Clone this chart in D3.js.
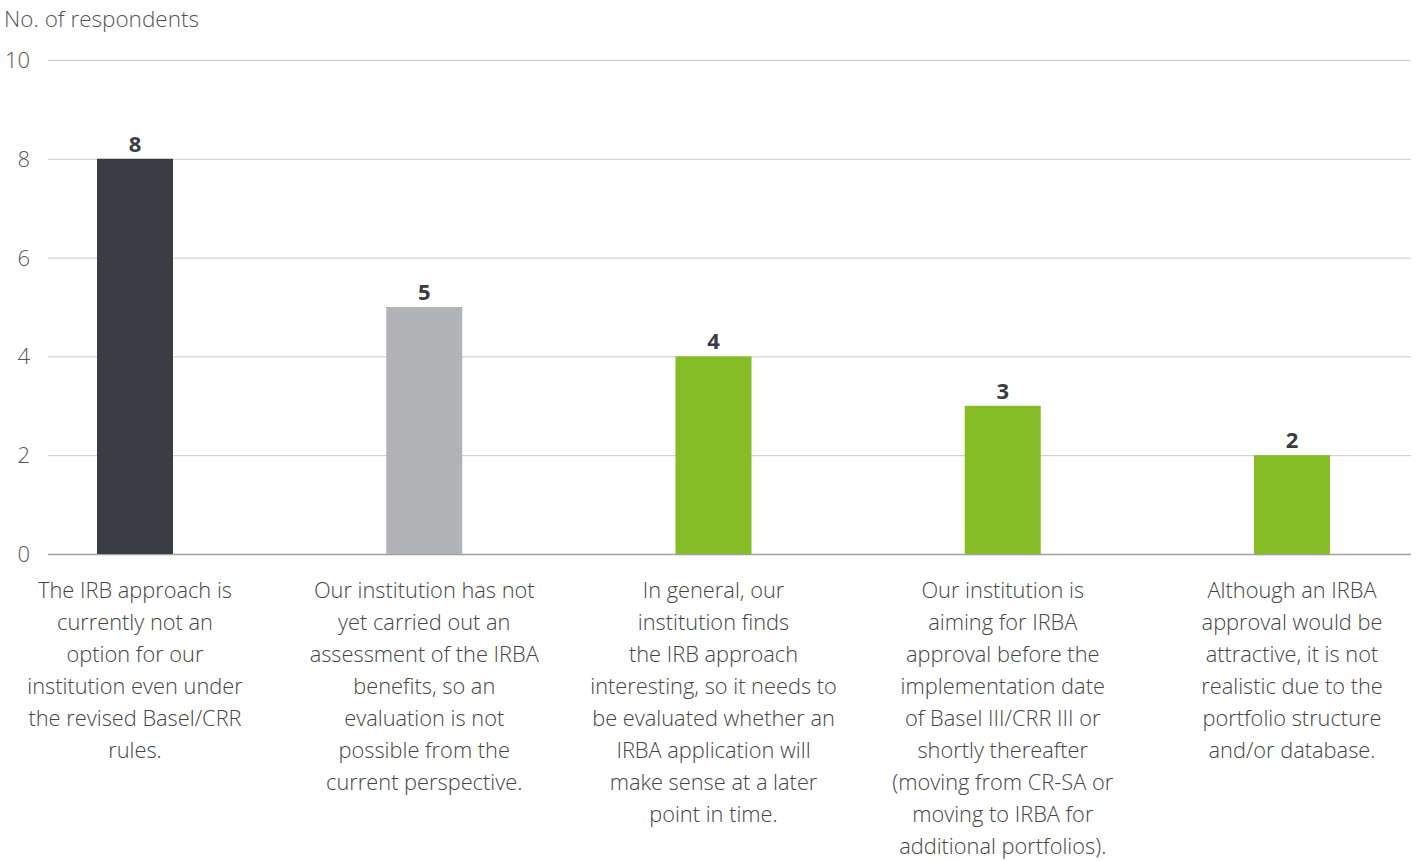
<!DOCTYPE html>
<html>
<head>
<meta charset="utf-8">
<script src="https://cdn.jsdelivr.net/npm/d3@7"></script>
<style>
  body { margin: 0; background: #fff; }
  svg { font-family: "Open Sans", sans-serif; }
</style>
</head>
<body>
<div id="chart"></div>
<script>
const width = 1417
const height = 861

// data
const categories = ["c1", "c2", "c3", "c4", "c5"]
const values = [8, 5, 4, 3, 2]
const barColors = ["#393c42", "#b2b3b5", "#86bc26", "#86bc26", "#86bc26"]
const categoryLabels = [
    ["The IRB approach is", "currently not an", "option for our", "institution even under", "the revised Basel/CRR", "rules."],
    ["Our institution has not", "yet carried out an", "assessment of the IRBA", "benefits, so an", "evaluation is not", "possible from the", "current perspective."],
    ["In general, our", "institution finds", "the IRB approach", "interesting, so it needs to", "be evaluated whether an", "IRBA application will", "make sense at a later", "point in time."],
    ["Our institution is", "aiming for IRBA", "approval before the", "implementation date", "of Basel III/CRR III or", "shortly thereafter", "(moving from CR-SA or", "moving to IRBA for", "additional portfolios)."],
    ["Although an IRBA", "approval would be", "attractive, it is not", "realistic due to the", "portfolio structure", "and/or database."]
]
const yTicks = [0, 2, 4, 6, 8, 10]

const plotLeft = 48, plotRight = 1411
const barWidth = 76

const svg = d3.select("#chart")
    .append("svg")
    .attr("width", width)
    .attr("height", height)

const x = d3.scalePoint()
    .domain(categories)
    .range([135, 1292])

const y = d3.scaleLinear()
    .domain([0, 10])
    .range([554, 60])

// gridlines
svg.append("g")
    .selectAll("line")
    .data(yTicks)
    .enter()
    .append("line")
    .attr("x1", plotLeft)
    .attr("x2", plotRight)
    .attr("y1", d => y(d) + 0.5)
    .attr("y2", d => y(d) + 0.5)
    .attr("stroke", d => d === 0 ? "#a0a0a0" : "#c8c8c8")
    .attr("stroke-width", d => d === 0 ? 1.5 : 1)

// y tick labels
svg.append("g")
    .selectAll("text")
    .data(yTicks)
    .enter()
    .append("text")
    .attr("x", 30)
    .attr("y", d => y(d) + 8)
    .attr("text-anchor", "end")
    .style("font-size", "22px")
    .style("font-weight", 300)
    .attr("fill", "#555")
    .text(d => d)

// axis title
svg.append("text")
    .attr("x", 4)
    .attr("y", 27)
    .style("font-size", "22.5px")
    .style("font-weight", 300)
    .attr("fill", "#555")
    .text("No. of respondents")

// bars
svg.append("g")
    .selectAll("rect")
    .data(values)
    .enter()
    .append("rect")
    .attr("x", (d, i) => x(categories[i]) - barWidth / 2)
    .attr("width", barWidth)
    .attr("y", d => y(d))
    .attr("height", d => y(0) - y(d))
    .attr("fill", (d, i) => barColors[i])

// value labels
svg.append("g")
    .selectAll("text")
    .data(values)
    .enter()
    .append("text")
    .attr("x", (d, i) => x(categories[i]))
    .attr("y", d => y(d) - 7)
    .attr("text-anchor", "middle")
    .style("font-size", "22px")
    .style("font-weight", 700)
    .attr("fill", "#393c42")
    .text(d => d)

// category labels
const labels = svg.append("g")
    .selectAll("text")
    .data(categoryLabels)
    .enter()
    .append("text")
    .attr("text-anchor", "middle")
    .style("font-size", "21.8px")
    .style("font-weight", 300)
    .attr("fill", "#444")

labels.each(function (lines, i) {
    const t = d3.select(this)
    lines.forEach((line, j) => {
        t.append("tspan")
            .attr("x", x(categories[i]))
            .attr("y", 598 + j * 32)
            .text(line)
    })
})
</script>
</body>
</html>
